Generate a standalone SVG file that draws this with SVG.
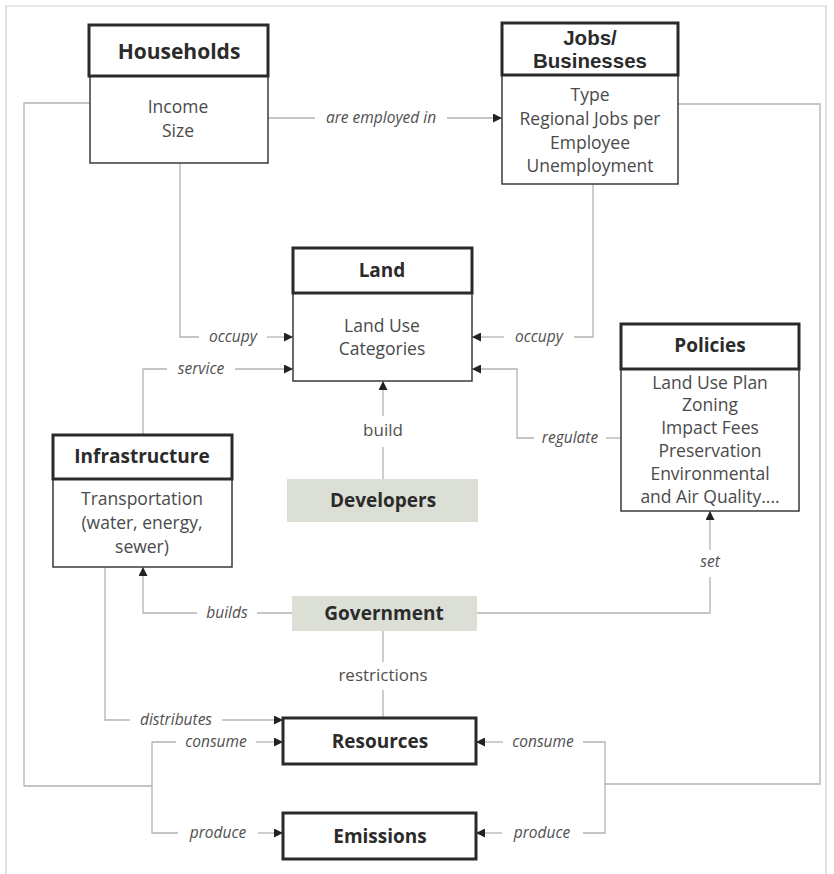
<svg xmlns="http://www.w3.org/2000/svg" width="834" height="874" viewBox="0 0 834 874">
<style>
  .frame{fill:none;stroke:#d0d0d0;stroke-width:1.2}
  .hdr{fill:#fff;stroke:#2a2a2a;stroke-width:3}
  .body{fill:#fff;stroke:#3a3a3a;stroke-width:1.5}
  .thick{fill:#fff;stroke:#2a2a2a;stroke-width:3}
  .gray{fill:#dcdfd6;stroke:none}
  .title{font-family:"Open Sans","Noto Sans",sans-serif;font-weight:bold;font-size:19px;fill:#2b2b2b;text-anchor:middle}
  .big{font-size:21px}
  .tight{font-family:"Liberation Sans",Arial,sans-serif;font-size:20.5px}
  .txt{font-family:"Open Sans","Noto Sans",sans-serif;font-size:17.5px;fill:#4a4a4a;text-anchor:middle}
  .lbl{font-family:"Open Sans","Noto Sans",sans-serif;font-style:italic;font-size:15.5px;fill:#505050;text-anchor:middle}
  .lbln{font-family:"Open Sans","Noto Sans",sans-serif;font-size:17px;fill:#505050;text-anchor:middle}
  .ln{fill:none;stroke:#b3b3b3;stroke-width:1.3}
</style>
<defs>
  <marker id="arr" viewBox="0 0 10 10" refX="10" refY="5" markerWidth="10" markerHeight="9" orient="auto" markerUnits="userSpaceOnUse">
    <path d="M0,0 L10,5 L0,10 z" fill="#222"/>
  </marker>
</defs>
<rect width="834" height="874" fill="#fff"/>
<path class="frame" d="M6,880 V6 H826 V880"/>

<g id="connectors">
  <!-- loops -->
  <path class="ln" d="M90,103 H24 V786 H152"/>
  <path class="ln" d="M678,104 H820 V784 H605"/>
  <!-- are employed in -->
  <path class="ln" d="M268,118 H315"/>
  <text class="lbl" x="381" y="123">are employed in</text>
  <path class="ln" d="M447,118 H502" marker-end="url(#arr)"/>
  <!-- occupy left -->
  <path class="ln" d="M180,163 V337 H199"/>
  <text class="lbl" x="233" y="342">occupy</text>
  <path class="ln" d="M267,337 H293" marker-end="url(#arr)"/>
  <!-- occupy right -->
  <path class="ln" d="M593,184 V337 H574"/>
  <text class="lbl" x="539" y="342">occupy</text>
  <path class="ln" d="M504,337 H472" marker-end="url(#arr)"/>
  <!-- service -->
  <path class="ln" d="M143,435 V369 H167"/>
  <text class="lbl" x="201" y="374">service</text>
  <path class="ln" d="M235,369 H293" marker-end="url(#arr)"/>
  <!-- regulate -->
  <path class="ln" d="M621,438 H606"/>
  <text class="lbl" x="570" y="443">regulate</text>
  <path class="ln" d="M534,438 H517 V369 H472" marker-end="url(#arr)"/>
  <!-- build -->
  <path class="ln" d="M383,479 V447"/>
  <text class="lbln" x="383" y="436">build</text>
  <path class="ln" d="M383,416 V381" marker-end="url(#arr)"/>
  <!-- builds -->
  <path class="ln" d="M292,613 H257"/>
  <text class="lbl" x="227" y="618">builds</text>
  <path class="ln" d="M197,613 H143 V567" marker-end="url(#arr)"/>
  <!-- set -->
  <path class="ln" d="M477,613 H710 V577"/>
  <text class="lbl" x="710" y="567">set</text>
  <path class="ln" d="M710,550 V511" marker-end="url(#arr)"/>
  <!-- restrictions -->
  <path class="ln" d="M383,631 V662"/>
  <text class="lbln" x="383" y="681">restrictions</text>
  <path class="ln" d="M383,690 V718"/>
  <!-- distributes -->
  <path class="ln" d="M105,567 V720 H130"/>
  <text class="lbl" x="176" y="725">distributes</text>
  <path class="ln" d="M222,720 H283" marker-end="url(#arr)"/>
  <!-- consume left -->
  <path class="ln" d="M152,786 V742 H176"/>
  <text class="lbl" x="216" y="747">consume</text>
  <path class="ln" d="M256,742 H283" marker-end="url(#arr)"/>
  <!-- produce left -->
  <path class="ln" d="M152,786 V833 H178"/>
  <text class="lbl" x="218" y="838">produce</text>
  <path class="ln" d="M258,833 H283" marker-end="url(#arr)"/>
  <!-- consume right -->
  <path class="ln" d="M605,784 V742 H583"/>
  <text class="lbl" x="543" y="747">consume</text>
  <path class="ln" d="M503,742 H476" marker-end="url(#arr)"/>
  <!-- produce right -->
  <path class="ln" d="M605,784 V833 H583"/>
  <text class="lbl" x="542" y="838">produce</text>
  <path class="ln" d="M502,833 H476" marker-end="url(#arr)"/>
</g>

<g id="households">
  <rect class="body" x="90" y="76" width="178" height="87"/>
  <rect class="hdr" x="89" y="25" width="179" height="51"/>
  <text class="title big" x="179" y="59">Households</text>
  <text class="txt" x="178" y="113">Income</text>
  <text class="txt" x="178" y="137">Size</text>
</g>

<g id="jobs">
  <rect class="body" x="502" y="75" width="176" height="109"/>
  <rect class="hdr" x="502" y="23" width="176" height="52"/>
  <text class="title tight" x="590" y="45">Jobs/</text>
  <text class="title tight" x="590" y="68">Businesses</text>
  <text class="txt" x="590" y="101">Type</text>
  <text class="txt" x="590" y="125">Regional Jobs per</text>
  <text class="txt" x="590" y="149">Employee</text>
  <text class="txt" x="590" y="172">Unemployment</text>
</g>

<g id="land">
  <rect class="body" x="293" y="293" width="179" height="88"/>
  <rect class="hdr" x="293" y="248" width="179" height="45"/>
  <text class="title" x="382" y="277">Land</text>
  <text class="txt" x="382" y="332">Land Use</text>
  <text class="txt" x="382" y="355">Categories</text>
</g>

<g id="policies">
  <rect class="body" x="621" y="369" width="178" height="142"/>
  <rect class="hdr" x="621" y="324" width="178" height="45"/>
  <text class="title" x="710" y="352">Policies</text>
  <text class="txt" x="710" y="389">Land Use Plan</text>
  <text class="txt" x="710" y="411">Zoning</text>
  <text class="txt" x="710" y="434">Impact Fees</text>
  <text class="txt" x="710" y="457">Preservation</text>
  <text class="txt" x="710" y="480">Environmental</text>
  <text class="txt" x="710" y="503">and Air Quality....</text>
</g>

<g id="infrastructure">
  <rect class="body" x="53" y="479" width="179" height="88"/>
  <rect class="hdr" x="53" y="435" width="179" height="44"/>
  <text class="title" x="142" y="463">Infrastructure</text>
  <text class="txt" x="142" y="505">Transportation</text>
  <text class="txt" x="142" y="529">(water, energy,</text>
  <text class="txt" x="142" y="553">sewer)</text>
</g>

<g id="developers">
  <rect class="gray" x="287" y="479" width="191" height="43"/>
  <text class="title" x="383" y="507">Developers</text>
</g>

<g id="government">
  <rect class="gray" x="292" y="596" width="185" height="35"/>
  <text class="title" x="384" y="620">Government</text>
</g>

<g id="resources">
  <rect class="thick" x="283" y="718" width="193" height="46"/>
  <text class="title" x="380" y="748">Resources</text>
</g>

<g id="emissions">
  <rect class="thick" x="283" y="813" width="193" height="46"/>
  <text class="title" x="380" y="843">Emissions</text>
</g>
</svg>
